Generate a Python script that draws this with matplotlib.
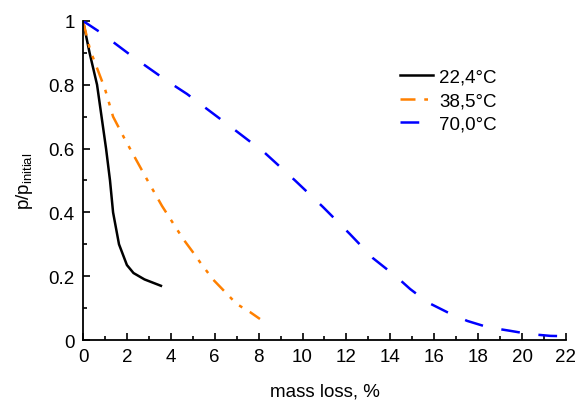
import matplotlib
matplotlib.use("Agg")
import matplotlib.pyplot as plt
from matplotlib.ticker import MultipleLocator, FuncFormatter

plt.rcParams['font.family'] = ['Liberation Sans', 'DejaVu Sans']
plt.rcParams['mathtext.default'] = 'regular'

x_224 = [0, 0.3, 0.64, 1.05, 1.23, 1.37, 1.64, 2.0, 2.3, 2.8, 3.55]
y_224 = [1, 0.9, 0.8, 0.6, 0.5, 0.4, 0.3, 0.235, 0.21, 0.19, 0.17]

x_385 = [0, 0.32, 1.0, 1.37, 1.9, 2.9, 3.6, 4.56, 5.0, 5.33, 5.92, 7.0, 7.6, 8.06]
y_385 = [1, 0.91, 0.787, 0.70, 0.63, 0.505, 0.42, 0.317, 0.276, 0.244, 0.19, 0.113, 0.088, 0.066]

x_700 = [0, 0.77, 2.28, 3.87, 4.74, 6.79, 8.29, 9.66, 10.93, 12.16, 13.2, 14.3, 14.9,
         15.7, 16.6, 17.5, 18.45, 19.45, 20.3, 21.3, 22.0]
y_700 = [1, 0.965, 0.887, 0.81, 0.771, 0.665, 0.586, 0.50, 0.417, 0.332, 0.257, 0.197, 0.16,
         0.118, 0.087, 0.06, 0.04, 0.029, 0.019, 0.013, 0.012]

labels = ['22,4°C', '38,5°C', '70,0°C']

FS = 13.5

fig = plt.figure(figsize=(5.78, 4.06), dpi=100)
ax = fig.add_axes([0.1436, 0.160, 0.8356, 0.786])

ax.plot(x_224, y_224, color='black', lw=1.8, label=labels[0])
ax.plot(x_385, y_385, color='#ff8000', lw=1.8, dashes=(6, 3.5, 1.5, 3.5, 1.5, 3.5), label=labels[1])
ax.plot(x_700, y_700, color='#0000ff', lw=1.8, dashes=(7.5, 7.5), label=labels[2])

ax.set_xlim(0, 22)
ax.set_ylim(0, 1)
ax.spines['top'].set_visible(False)
ax.spines['right'].set_visible(False)
ax.spines['left'].set_linewidth(1.3)
ax.spines['bottom'].set_linewidth(1.3)
ax.xaxis.set_major_locator(MultipleLocator(2))
ax.xaxis.set_minor_locator(MultipleLocator(1))
ax.yaxis.set_major_locator(MultipleLocator(0.2))
ax.yaxis.set_minor_locator(MultipleLocator(0.1))
ax.yaxis.set_major_formatter(FuncFormatter(lambda v, p: ('%g' % round(v, 2))))
ax.tick_params(which='major', direction='in', length=5, width=1.2, labelsize=FS, pad=6)
ax.tick_params(which='minor', direction='in', length=3, width=1.2)

ax.set_xlabel('mass loss, %', fontsize=FS, labelpad=12)
ax.set_ylabel('p/p$_{initial}$', fontsize=FS, labelpad=10)

leg = fig.legend(loc='upper left', bbox_to_anchor=(0.692, 0.828), frameon=False, fontsize=FS,
                 handlelength=1.75, handletextpad=0.35, labelspacing=0.33, borderpad=0,
                 borderaxespad=0)

fig.savefig('out.png', dpi=100)
